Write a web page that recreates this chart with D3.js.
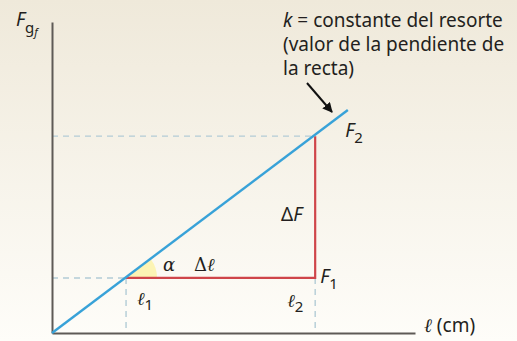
<!DOCTYPE html>
<html>
<head>
<meta charset="utf-8">
<script src="https://cdn.jsdelivr.net/npm/d3@7"></script>
<style>
  html, body { margin: 0; padding: 0; }
  svg text { font-family: "Noto Sans", "Open Sans", sans-serif; fill: #231f20; }
</style>
</head>
<body>
<div id="chart"></div>
<script>
// chart values (length in arbitrary cm units, force in arbitrary units)
const lengths = [20.4, 72.5];        // l1, l2
const forces = [17.7, 63.3];         // F1, F2
const lineL = [0, 81.5];             // spring line start/end (length)
const lineF = [0, 71.7];             // spring line start/end (force)
const lengthLabels = ["1", "2"];
const annotation = ["constante del resorte", "(valor de la pendiente de", "la recta)"];

const W = 517, H = 341;
const svg = d3.select("#chart").append("svg")
  .attr("width", W)
  .attr("height", H);

// background gradient
const grad = svg.append("defs").append("linearGradient")
  .attr("id", "bg").attr("x1", 0).attr("y1", 0).attr("x2", 0).attr("y2", 1);
grad.append("stop").attr("offset", "0%").attr("stop-color", "#efe9da");
grad.append("stop").attr("offset", "100%").attr("stop-color", "#fefdf9");
svg.append("rect").attr("width", W).attr("height", H).attr("fill", "url(#bg)");

const x = d3.scaleLinear().domain([0, 100]).range([52, 415]);
const y = d3.scaleLinear().domain([0, 100]).range([333, 22]);

const dashColor = "#b3ccd6";
const red = "#cf454a";
const blue = "#38a2d8";

// dashed guides
const guides = svg.append("g")
  .attr("stroke", dashColor)
  .attr("stroke-width", 1.4)
  .attr("stroke-dasharray", "6,5");
lengths.forEach((l, i) => {
  guides.append("line")
    .attr("x1", x(0)).attr("x2", x(l))
    .attr("y1", y(forces[i])).attr("y2", y(forces[i]));
  guides.append("line")
    .attr("x1", x(l)).attr("x2", x(l))
    .attr("y1", y(forces[0])).attr("y2", y(0));
});

// angle wedge
const angle = Math.atan2(y(forces[0]) - y(forces[1]), x(lengths[1]) - x(lengths[0]));
const arc = d3.arc()
  .innerRadius(0)
  .outerRadius(31)
  .startAngle(Math.PI / 2 - angle)
  .endAngle(Math.PI / 2);
svg.append("path")
  .attr("d", arc())
  .attr("transform", `translate(${x(lengths[0])},${y(forces[0])})`)
  .attr("fill", "#fcf4b4");

// red triangle legs
svg.append("path")
  .attr("d", d3.line()([
    [x(lengths[0]), y(forces[0])],
    [x(lengths[1]), y(forces[0])],
    [x(lengths[1]), y(forces[1])]
  ]))
  .attr("fill", "none")
  .attr("stroke", red)
  .attr("stroke-width", 2.2);

// axes (no ticks)
const axisX = svg.append("g")
  .attr("transform", `translate(0,${y(0)})`)
  .call(d3.axisBottom(x).tickValues([]).tickSizeOuter(0));
const axisY = svg.append("g")
  .attr("transform", `translate(${x(0)},0)`)
  .call(d3.axisLeft(y).tickValues([]).tickSizeOuter(0));
[axisX, axisY].forEach(a => a.select(".domain")
  .attr("stroke", "#5e5a56")
  .attr("stroke-width", 2));

// spring line
svg.append("path")
  .attr("d", d3.line().x(d => x(d[0])).y(d => y(d[1]))(lineL.map((l, i) => [l, lineF[i]])))
  .attr("stroke", blue)
  .attr("stroke-width", 2.4)
  .attr("fill", "none");

// arrow
svg.append("defs").append("marker")
  .attr("id", "head")
  .attr("viewBox", "0 0 10 10")
  .attr("refX", 9).attr("refY", 5)
  .attr("markerWidth", 5).attr("markerHeight", 5)
  .attr("orient", "auto")
  .append("path").attr("d", "M0,0L10,5L0,10z").attr("fill", "#111");
svg.append("line")
  .attr("x1", 307).attr("y1", 83)
  .attr("x2", 332).attr("y2", 112)
  .attr("stroke", "#111")
  .attr("stroke-width", 2)
  .attr("marker-end", "url(#head)");

// text labels
const fs = 19;
const t1 = svg.append("text").attr("x", 283).attr("y", 27).style("font-size", fs + "px");
t1.append("tspan").style("font-style", "italic").text("k");
t1.append("tspan").text(" = " + annotation[0]);
annotation.slice(1).forEach((s, i) => {
  svg.append("text").attr("x", 283).attr("y", 51 + i * 24)
    .style("font-size", fs + "px").text(s);
});

// y axis label
const yl = svg.append("text").attr("x", 16).attr("y", 26).style("font-size", "19px");
yl.append("tspan").style("font-style", "italic").text("F");
yl.append("tspan").attr("dy", 7).style("font-size", "15px").text("g");
yl.append("tspan").attr("dy", 3).style("font-size", "11px").style("font-style", "italic").text("f");

// x axis label
const xl = svg.append("text").attr("x", 424).attr("y", 332).style("font-size", "19px");
xl.append("tspan").style("font-family", "'DejaVu Serif', serif").style("font-style", "italic").text("ℓ");
xl.append("tspan").text(" (cm)");

// F1, F2
forces.forEach((f, i) => {
  const t = svg.append("text")
    .attr("x", x(lengths[1]) + (i === 0 ? 5 : 30))
    .attr("y", y(f) + (i === 0 ? 5 : 1))
    .style("font-size", "19px");
  t.append("tspan").style("font-style", "italic").text("F");
  t.append("tspan").attr("dy", 6).style("font-size", "15px").text(lengthLabels[i]);
});

// l1, l2
lengths.forEach((l, i) => {
  const t = svg.append("text")
    .attr("x", x(l) + (i === 0 ? 11 : -28))
    .attr("y", y(0) - (i === 0 ? 28 : 26))
    .style("font-size", "18px");
  t.append("tspan").style("font-family", "'DejaVu Serif', serif").style("font-style", "italic").text("ℓ");
  t.append("tspan").attr("dy", 5).style("font-size", "15px").text(lengthLabels[i]);
});

// delta labels
const dF = svg.append("text").attr("x", 281).attr("y", 221).style("font-size", "19px");
dF.append("tspan").text("Δ");
dF.append("tspan").style("font-style", "italic").text("F");

svg.append("text").attr("x", 163).attr("y", 271)
  .style("font-family", "'DejaVu Serif', serif")
  .style("font-style", "italic").style("font-size", "18px").text("α");
const dl = svg.append("text").attr("x", 194).attr("y", 271)
  .style("font-family", "'DejaVu Serif', serif")
  .style("font-size", "18px");
dl.append("tspan").text("Δ");
dl.append("tspan").style("font-style", "italic").text("ℓ");
</script>
</body>
</html>
